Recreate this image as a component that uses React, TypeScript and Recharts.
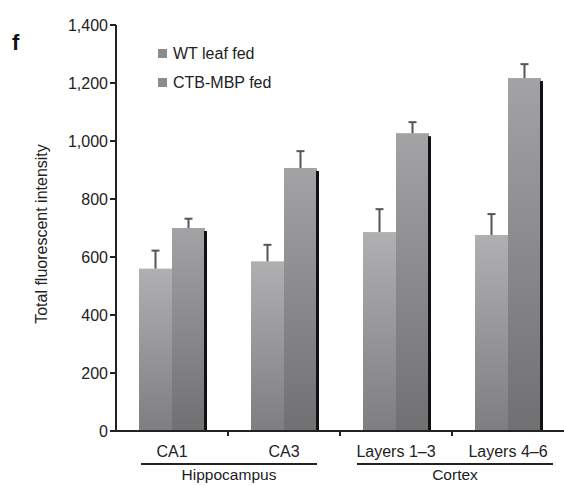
import React from 'react';
import { BarChart, Bar, XAxis, YAxis } from 'recharts';

const categories = ['CA1', 'CA3', 'Layers 1\u20133', 'Layers 4\u20136'];
const wtValues = [560, 585, 686, 676];
const wtErrors = [62, 57, 79, 72];
const ctbValues = [700, 907, 1027, 1217];
const ctbErrors = [32, 58, 38, 48];
const yTicks = [0, 200, 400, 600, 800, 1000, 1200, 1400];
const groups = [
  { name: 'Hippocampus', first: 0, last: 1 },
  { name: 'Cortex', first: 2, last: 3 },
];
const legendItems = ['WT leaf fed', 'CTB-MBP fed'];

const data = categories.map((name, i) => ({
  name,
  wt: wtValues[i],
  wtErr: wtErrors[i],
  ctb: ctbValues[i],
  ctbErr: ctbErrors[i],
}));

const FONT = '"Liberation Sans", Arial, sans-serif';
const STEP = 112;

// bar with gradient fill, optional dark right edge and upper error whisker
const makeShape = (fillId: string, errKey: string, valKey: string, edge: boolean) => (props: any) => {
  const { x, y, width, height, payload } = props;
  const perUnit = height / payload[valKey];
  const errTop = y - payload[errKey] * perUnit;
  const cx = x + width / 2;
  return (
    <g>
      <rect x={x} y={y} width={width} height={height} fill={`url(#${fillId})`} />
      {edge && <rect x={x + width - 1} y={y + 3} width={3} height={height - 3} fill="#111" />}
      <line x1={cx} x2={cx} y1={y} y2={errTop} stroke="#555" strokeWidth={2} />
      <line x1={cx - 4} x2={cx + 4} y1={errTop} y2={errTop} stroke="#555" strokeWidth={2} />
    </g>
  );
};

const XTick = (props: any) => {
  const { x, y, payload } = props;
  const idx = payload.index;
  const axisY = y - 8;
  const group = groups.find((g) => g.last === idx);
  return (
    <g>
      {idx < categories.length - 1 && (
        <line x1={x + STEP / 2} x2={x + STEP / 2} y1={axisY} y2={axisY + 5} stroke="#222" strokeWidth={2} />
      )}
      <text x={x} y={axisY + 26} textAnchor="middle" fontSize={16} fill="#222" fontFamily={FONT}>
        {payload.value}
      </text>
      {group && (() => {
        const x0 = x - (group.last - group.first) * STEP - (group.first === 0 ? 31 : 39);
        const x1 = x + (group.first === 0 ? 33 : 45);
        return (
          <g>
            <line x1={x0} x2={x1} y1={axisY + 33} y2={axisY + 33} stroke="#222" strokeWidth={2} />
            <text x={(x0 + x1) / 2} y={axisY + 49} textAnchor="middle" fontSize={15.5} fill="#222" fontFamily={FONT}>
              {group.name}
            </text>
          </g>
        );
      })()}
    </g>
  );
};

const App = () => (
  <div style={{ position: 'absolute', left: 0, top: 0, width: 564, height: 485, background: '#fff', overflow: 'hidden' }}>
    <BarChart
      width={564}
      height={485}
      data={data}
      margin={{ top: 25, right: 0, left: 0, bottom: 0 }}
      barSize={33}
      barGap={0}
    >
      <defs>
        <linearGradient id="wtGrad" x1="0" y1="0" x2="0" y2="1">
          <stop offset="0%" stopColor="#b0b0b2" />
          <stop offset="100%" stopColor="#7e7e80" />
        </linearGradient>
        <linearGradient id="ctbGrad" x1="0" y1="0" x2="0" y2="1">
          <stop offset="0%" stopColor="#a3a3a5" />
          <stop offset="100%" stopColor="#707072" />
        </linearGradient>
      </defs>
      <XAxis
        dataKey="name"
        height={54}
        axisLine={{ stroke: '#222', strokeWidth: 2 }}
        tickLine={false}
        tick={<XTick />}
        interval={0}
      />
      <YAxis
        width={116}
        domain={[0, 1400]}
        ticks={yTicks}
        tickFormatter={(v: number) => v.toLocaleString('en-US')}
        tick={{ fontSize: 16, fill: '#222', fontFamily: FONT }}
        axisLine={{ stroke: '#222', strokeWidth: 2 }}
        tickLine={{ stroke: '#222', strokeWidth: 2 }}
        tickSize={6}
        label={(p: any) => {
          const vb = p.viewBox;
          const cy = vb.y + vb.height / 2 + 6;
          return (
            <text x={47} y={cy} transform={`rotate(-90 47 ${cy})`} textAnchor="middle" fontSize={16} fill="#222" fontFamily={FONT}>
              Total fluorescent intensity
            </text>
          );
        }}
      />
      <Bar dataKey="wt" name="WT leaf fed" isAnimationActive={false} shape={makeShape('wtGrad', 'wtErr', 'wt', false)} />
      <Bar dataKey="ctb" name="CTB-MBP fed" isAnimationActive={false} shape={makeShape('ctbGrad', 'ctbErr', 'ctb', true)} />
    </BarChart>
    <div style={{ position: 'absolute', left: 158, top: 39, fontFamily: FONT, fontSize: 16, color: '#222' }}>
      {legendItems.map((name) => (
        <div key={name} style={{ display: 'flex', alignItems: 'center', height: 29 }}>
          <div style={{ width: 9, height: 9, background: '#8c8c8e', marginRight: 6 }} />
          {name}
        </div>
      ))}
    </div>
    <div style={{ position: 'absolute', left: 12, top: 30, fontFamily: FONT, fontWeight: 'bold', fontSize: 22, color: '#111' }}>
      f
    </div>
  </div>
);

export default App;
